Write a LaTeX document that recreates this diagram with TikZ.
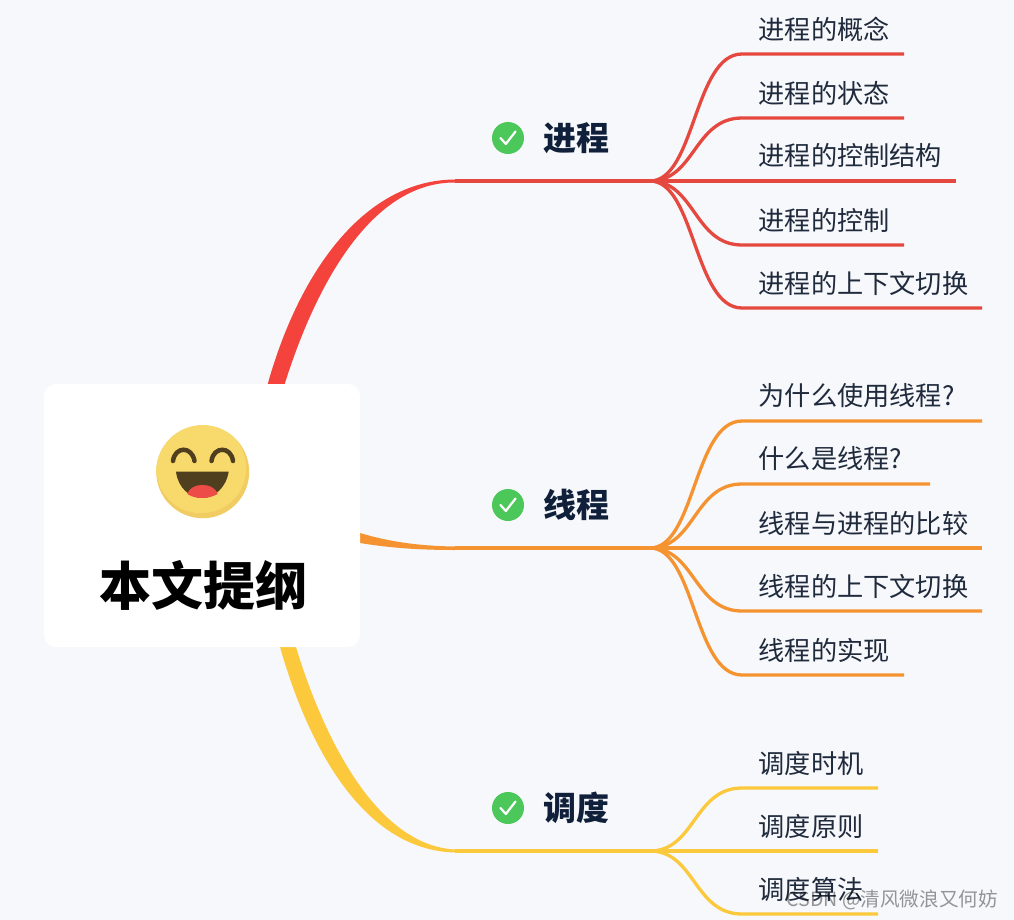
\documentclass[tikz,border=0pt]{standalone}
\usepackage{fontspec}
\setmainfont{Noto Sans CJK SC}
\definecolor{bgc}{HTML}{F7F8FB}
\definecolor{redl}{HTML}{E5483F}
\definecolor{redt}{HTML}{F4433C}
\definecolor{orgl}{HTML}{F59331}
\definecolor{yell}{HTML}{FCC83C}
\definecolor{leaft}{HTML}{1F2A3C}
\definecolor{brt}{HTML}{10203A}
\definecolor{okg}{HTML}{4CC85A}
\definecolor{face}{HTML}{F8DA6C}
\definecolor{faced}{HTML}{F0CC62}
\definecolor{fdark}{HTML}{4F3F1E}
\definecolor{tong}{HTML}{EC4B47}
\tikzset{
  twig/.style={line width=3.3pt,draw=#1,fill=none},
  leaflabel/.style={anchor=west,inner sep=0pt,text=leaft,font=\fontsize{26.2}{26}\selectfont},
  brlabel/.style={anchor=west,inner sep=0pt,text=brt,font=\fontsize{33}{33}\selectfont\bfseries},
  okdot/.style={circle,fill=okg,minimum size=32pt,inner sep=0pt},
  rootcard/.style={rounded corners=12pt,fill=white,draw=none,minimum width=316pt,minimum height=263pt,inner sep=0pt},
}
\begin{document}
\begin{tikzpicture}[x=1pt,y=-1pt]
\useasboundingbox (0,0) rectangle (1014,920);
\fill[bgc] (0,0) rectangle (1014,920);

% tapered main branches
\fill[redt] (263,400) -- (268,383) .. controls (300,270) and (365,180) .. (455,179.5) -- (455,182.5) .. controls (370,182) and (315,288) .. (285,383) -- (280,400) -- cycle;
\fill[orgl] (350,530) -- (360,533) .. controls (390,542) and (420,546) .. (455,546.5) -- (455,550) .. controls (420,550) and (390,548) .. (360,543) -- (350,541) -- cycle;
\fill[yell] (276,630) -- (280,647) .. controls (305,735) and (358,850) .. (455,852.5) -- (455,849.5) .. controls (370,845) and (318,720) .. (296,647) -- (292,630) -- cycle;

% root
\node[rootcard] (root) at (202,515.5) {};
\node[inner sep=0pt,font=\fontsize{52}{52}\selectfont\bfseries,text=black] (title) at (203,585) {本文提纲};

% emoji
\node[circle,fill=faced,minimum size=93pt,inner sep=0pt] (emoji) at (202.7,471.7) {};
\begin{scope}
\clip (202.7,471.7) circle (46.5);
\fill[face] (201.2,468.2) circle (45);
\end{scope}
\draw[fdark,line width=4.5pt,line cap=round] (173,461) .. controls (175,446) and (192,446) .. (194.5,461);
\draw[fdark,line width=4.5pt,line cap=round] (211.5,461) .. controls (213.5,446) and (231,446) .. (233,461);
\fill[fdark] (176,471.7) -- (228.7,471.7) .. controls (226,488) and (214,498) .. (202.3,498) .. controls (190,498) and (178,488) .. (176,471.7) -- cycle;
\fill[tong] (187.3,494) .. controls (190,487) and (196,485) .. (202.3,485) .. controls (209,485) and (215,487) .. (217.7,494) .. controls (212,497) and (207,498) .. (202.3,498) .. controls (197,498) and (192,497) .. (187.3,494) -- cycle;

% hubs
\coordinate (a0) at (455,181); \coordinate (a1) at (650,181);
\coordinate (b0) at (455,548); \coordinate (b1) at (650,548);
\coordinate (c0) at (455,851); \coordinate (c1) at (650,851);

% branch labels
\foreach \n/\y/\t in {a/138/进程,b/505/线程,c/808/调度}{
  \node[okdot] (\n dot) at (508,\y) {};
  \draw[white,line width=2.2pt,line cap=round,line join=round] (500.5,\y) -- (505.8,\y+6) -- (515.5,\y-6.5);
  \node[brlabel] (\n lab) at (543.5,\y) {\t};
}

% branch stems
\draw[twig=redl] (a0) -- (a1);
\draw[twig=orgl] (b0) -- (b1);
\draw[twig=yell] (c0) -- (c1);

% leaves: id / line y / end x / text
\foreach \n/\y/\e/\t in {a1/54/904/进程的概念,a2/118/904/进程的状态,a3/181/956/进程的控制结构,a4/245/904/进程的控制,a5/308/982/进程的上下文切换}{
  \coordinate (\n s) at (742,\y); \coordinate (\n e) at (\e,\y);
  \draw[twig=redl] (a1) .. controls +(45,0) and +(-48,0) .. (\n s) -- (\n e);
  \node[leaflabel] (\n t) at (758.5,\y-25) {\t};
}
\foreach \n/\y/\e/\t in {b1/421/982/为什么使用线程?,b2/484/930/什么是线程?,b3/548/982/线程与进程的比较,b4/611/982/线程的上下文切换,b5/675/904/线程的实现}{
  \coordinate (\n s) at (742,\y); \coordinate (\n e) at (\e,\y);
  \draw[twig=orgl] (b1) .. controls +(45,0) and +(-48,0) .. (\n s) -- (\n e);
  \node[leaflabel] (\n t) at (758.5,\y-25) {\t};
}
\foreach \n/\y/\e/\t in {c1/788/878/调度时机,c2/851/878/调度原则,c3/914/878/调度算法}{
  \coordinate (\n s) at (742,\y); \coordinate (\n e) at (\e,\y);
  \draw[twig=yell] (c1) .. controls +(45,0) and +(-48,0) .. (\n s) -- (\n e);
  \node[leaflabel] (\n t) at (758.5,\y-25) {\t};
}

% watermark
\node[anchor=east,inner sep=0pt,text=black,opacity=0.4,font=\fontsize{19.6}{20}\selectfont] (wm) at (998,900) {CSDN @清风微浪又何妨};
\end{tikzpicture}
\end{document}
